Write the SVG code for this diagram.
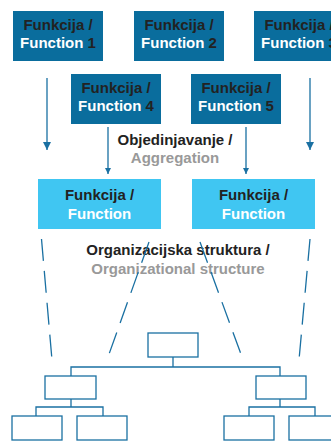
<svg xmlns="http://www.w3.org/2000/svg" width="331" height="441" viewBox="0 0 331 441">
<defs>
<style>
.dk{fill:#0a6d9d}
.lt{fill:#40c6f2}
.t{font-family:"Liberation Sans",Arial,sans-serif;font-weight:bold;font-size:15px;text-anchor:middle}
.b{fill:#222}
.w{fill:#fff}
.g{fill:#999}
.ln{stroke:#1a70a2;stroke-width:1.3;fill:none}
.ds{stroke:#1a70a2;stroke-width:1.3;fill:none;stroke-dasharray:22 10}
.ob{fill:#fff;stroke:#1a70a2;stroke-width:1.3}
</style>
<marker id="ah" viewBox="0 0 10 10" refX="10" refY="5" markerWidth="8" markerHeight="8" markerUnits="userSpaceOnUse" orient="auto">
<path d="M0,0 L10,5 L0,10 z" fill="#1a70a2"/>
</marker>
<marker id="ah2" viewBox="0 0 10 10" refX="10" refY="5" markerWidth="6" markerHeight="6" markerUnits="userSpaceOnUse" orient="auto">
<path d="M0,0 L10,5 L0,10 z" fill="#1a70a2"/>
</marker>
</defs>
<rect width="331" height="441" fill="#fff"/>
<g id="f1"><rect class="dk" x="13" y="11" width="90" height="50"/><text class="t b" x="58" y="30">Funkcija /</text><text class="t w" x="58" y="48">Function <tspan class="b">1</tspan></text></g>
<g id="f2"><rect class="dk" x="134" y="11" width="90" height="50"/><text class="t b" x="179" y="30">Funkcija /</text><text class="t w" x="179" y="48">Function <tspan class="b">2</tspan></text></g>
<g id="f3"><rect class="dk" x="254" y="11" width="90" height="50"/><text class="t b" x="299" y="30">Funkcija /</text><text class="t w" x="299" y="48">Function <tspan class="b">3</tspan></text></g>
<g id="f4"><rect class="dk" x="71" y="74" width="90" height="50"/><text class="t b" x="116" y="93">Funkcija /</text><text class="t w" x="116" y="111">Function <tspan class="b">4</tspan></text></g>
<g id="f5"><rect class="dk" x="191" y="74" width="90" height="50"/><text class="t b" x="236" y="93">Funkcija /</text><text class="t w" x="236" y="111">Function <tspan class="b">5</tspan></text></g>
<g id="fa"><rect class="lt" x="38" y="179" width="123" height="50"/><text class="t b" x="99.5" y="200">Funkcija /</text><text class="t w" x="99.5" y="219">Function</text></g>
<g id="fb"><rect class="lt" x="192" y="179" width="123" height="50"/><text class="t b" x="253.5" y="200">Funkcija /</text><text class="t w" x="253.5" y="219">Function</text></g>
<g id="labels">
<text class="t b" x="175" y="145">Objedinjavanje /</text>
<text class="t g" x="175" y="163">Aggregation</text>
<text class="t b" x="178" y="255">Organizacijska struktura /</text>
<text class="t g" x="178" y="274">Organizational structure</text>
</g>
<g id="connectors">
<line class="ln" x1="47" y1="78" x2="47" y2="150" marker-end="url(#ah)"/>
<line class="ln" x1="310" y1="78" x2="310" y2="150" marker-end="url(#ah)"/>
<line class="ln" x1="108" y1="127" x2="108" y2="174" marker-end="url(#ah2)"/>
<line class="ln" x1="246" y1="127" x2="246" y2="174" marker-end="url(#ah2)"/>
<line class="ds" x1="41.5" y1="239" x2="52" y2="360"/>
<line class="ds" x1="149" y1="242" x2="108" y2="357"/>
<line class="ds" x1="200" y1="242" x2="242" y2="357"/>
<line class="ds" x1="310" y1="239" x2="299" y2="360"/>
<path class="ln" d="M173,357 V367 M71,376 V367 H280 V376 M71,399 V407 M36,416 V407 H103 V416 M280,399 V407 M249,416 V407 H315 V416"/>
</g>
<g id="org">
<rect class="ob" x="148" y="333" width="50" height="24"/>
<rect class="ob" x="45" y="376" width="51" height="23"/>
<rect class="ob" x="256" y="376" width="50" height="23"/>
<rect class="ob" x="12" y="416" width="50" height="24"/>
<rect class="ob" x="77" y="416" width="50" height="24"/>
<rect class="ob" x="224" y="416" width="50" height="24"/>
<rect class="ob" x="289" y="416" width="50" height="24"/>
</g>
</svg>
